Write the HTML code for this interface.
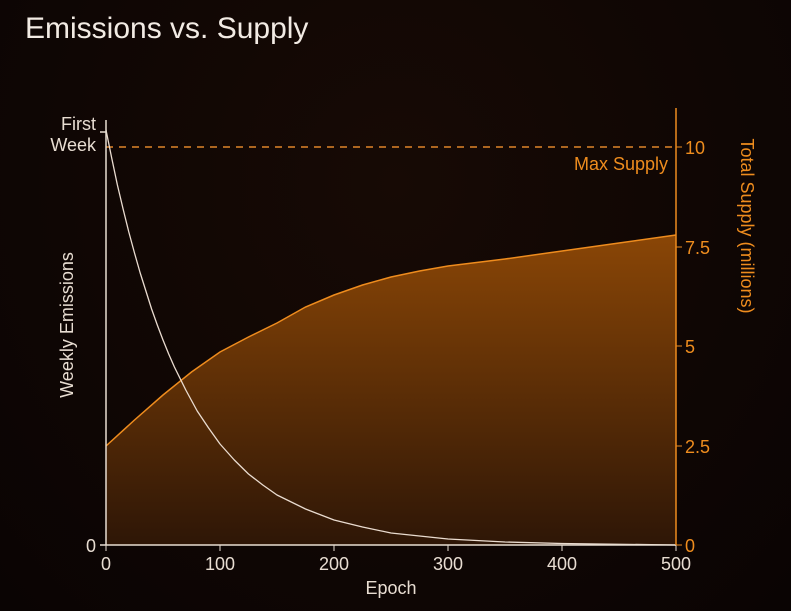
<!DOCTYPE html>
<html><head><style>
html,body{margin:0;padding:0;}
body{width:791px;height:611px;background:radial-gradient(ellipse at 50% 30%,#170a05 0%,#0f0604 60%,#0a0403 100%);overflow:hidden;font-family:"Liberation Sans",sans-serif;}
</style></head><body>
<svg width="791" height="611" viewBox="0 0 791 611" xmlns="http://www.w3.org/2000/svg" style="position:absolute;left:0;top:0">
<defs>
<linearGradient id="f" x1="0" y1="0" x2="0" y2="1">
<stop offset="0" stop-color="#8a4606"/>
<stop offset="1" stop-color="#2e1606"/>
</linearGradient>
</defs>
<text x="25" y="38" font-size="30" fill="#f2ebe4">Emissions vs. Supply</text>
<path d="M106,446 L134.5,420 L163,395 L191.5,372 L220,352 L248.5,337 L277,323 L305.5,307 L334,295 L362.5,285 L391,277 L419.5,271 L448,266 L505,259 L562,251 L619,243 L676,235 L676,545 L106,545 Z" fill="url(#f)"/>
<path d="M106,446 L134.5,420 L163,395 L191.5,372 L220,352 L248.5,337 L277,323 L305.5,307 L334,295 L362.5,285 L391,277 L419.5,271 L448,266 L505,259 L562,251 L619,243 L676,235" fill="none" stroke="#ee8c1e" stroke-width="1.5"/>
<line x1="106" y1="147" x2="676" y2="147" stroke="#e0852a" stroke-width="1.5" stroke-dasharray="7,6"/>
<text x="668" y="170" font-size="18" fill="#ee8c1e" text-anchor="end">Max Supply</text>
<path d="M106,130 L111.7,158 L117.4,185 L123.1,209 L128.8,232 L134.5,253 L140.2,273 L145.9,291 L151.6,309 L157.3,325 L163,340 L168.7,354 L174.4,367 L185.8,390 L197.2,411 L208.6,428 L220,444 L234.3,460 L248.5,474 L262.8,485 L277,495 L305.5,509 L334,520 L362.5,527 L391,533 L448,539 L505,542 L562,543.5 L676,545" fill="none" stroke="#eadcd0" stroke-width="1.3" stroke-linejoin="round"/>
<line x1="106" y1="120" x2="106" y2="545" stroke="#e8ddd2" stroke-width="1.5"/>
<line x1="106" y1="545" x2="676" y2="545" stroke="#e8ddd2" stroke-width="1.5"/>
<line x1="100" y1="132" x2="106" y2="132" stroke="#e8ddd2" stroke-width="1.5"/>
<line x1="100" y1="545" x2="106" y2="545" stroke="#e8ddd2" stroke-width="1.5"/>
<text x="96" y="130" font-size="18" fill="#e8ddd2" text-anchor="end">First</text>
<text x="96" y="151" font-size="18" fill="#e8ddd2" text-anchor="end">Week</text>
<text x="96" y="552" font-size="18" fill="#e8ddd2" text-anchor="end">0</text>
<text transform="translate(73,325) rotate(-90)" font-size="18" fill="#e8ddd2" text-anchor="middle">Weekly Emissions</text>
<g font-size="18" fill="#e8ddd2" text-anchor="middle">
<line x1="106" y1="545" x2="106" y2="551" stroke="#e8ddd2"/><text x="106" y="570">0</text>
<line x1="220" y1="545" x2="220" y2="551" stroke="#e8ddd2"/><text x="220" y="570">100</text>
<line x1="334" y1="545" x2="334" y2="551" stroke="#e8ddd2"/><text x="334" y="570">200</text>
<line x1="448" y1="545" x2="448" y2="551" stroke="#e8ddd2"/><text x="448" y="570">300</text>
<line x1="562" y1="545" x2="562" y2="551" stroke="#e8ddd2"/><text x="562" y="570">400</text>
<line x1="676" y1="545" x2="676" y2="551" stroke="#e8ddd2"/><text x="676" y="570">500</text>
<text x="391" y="594">Epoch</text>
</g>
<line x1="676" y1="108" x2="676" y2="545" stroke="#ee8c1e" stroke-width="1.5"/>
<g font-size="18" fill="#ee8c1e" stroke="#ee8c1e">
<line x1="676" y1="147" x2="682" y2="147"/><text x="685" y="154" stroke="none">10</text>
<line x1="676" y1="247" x2="682" y2="247"/><text x="685" y="254" stroke="none">7.5</text>
<line x1="676" y1="346" x2="682" y2="346"/><text x="685" y="353" stroke="none">5</text>
<line x1="676" y1="446" x2="682" y2="446"/><text x="685" y="453" stroke="none">2.5</text>
<line x1="676" y1="545" x2="682" y2="545"/><text x="685" y="552" stroke="none">0</text>
</g>
<text transform="translate(741,226) rotate(90)" font-size="18" fill="#ee8c1e" text-anchor="middle">Total Supply (millions)</text>
</svg>
</body></html>
